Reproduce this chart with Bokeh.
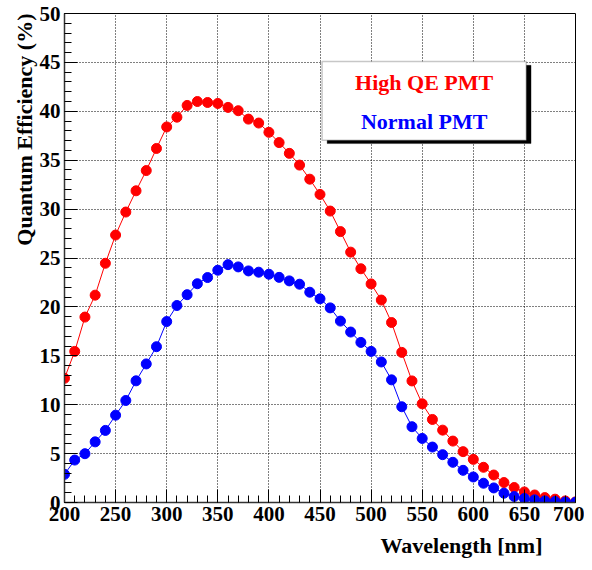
from bokeh.plotting import figure
from bokeh.models import (Range1d, SingleIntervalTicker, Title, BoxAnnotation, Label)
from bokeh.embed import file_html
from bokeh.resources import INLINE

wavelength = list(range(200, 701, 10))
high_qe = [12.7, 15.45, 18.96, 21.2, 24.46, 27.35, 29.7, 31.87, 33.94, 36.2,
           38.4, 39.4, 40.6, 41.0, 40.9, 40.8, 40.4, 40.06, 39.2, 38.8,
           37.85, 36.8, 35.7, 34.5, 33.06, 31.5, 29.8, 27.7, 25.6, 23.9,
           22.35, 20.7, 18.4, 15.35, 12.43, 10.09, 8.49, 7.4, 6.28, 5.2,
           4.41, 3.6, 2.81, 2.04, 1.53, 1.08, 0.77, 0.5, 0.34, 0.16, 0.06]
normal = [2.88, 4.34, 4.99, 6.2, 7.37, 8.93, 10.43, 12.44, 14.17, 15.93,
          18.5, 20.14, 21.25, 22.37, 23.0, 23.75, 24.32, 24.09, 23.68, 23.55,
          23.34, 23.02, 22.66, 22.32, 21.5, 20.83, 19.9, 18.55, 17.43, 16.37,
          15.45, 14.37, 12.54, 9.79, 7.75, 6.55, 5.67, 4.89, 4.11, 3.29,
          2.61, 1.97, 1.49, 0.95, 0.61, 0.41, 0.27, 0.16, 0.1, 0.05, 0.03]
series_names = ["High QE PMT", "Normal PMT"]
series_colors = ["#ff0000", "#0000ff"]

FONT = "Liberation Serif"

p = figure(width=584, height=570, output_backend="svg", toolbar_location=None,
           x_range=Range1d(200, 700), y_range=Range1d(0, 50),
           min_border_left=64, min_border_right=9, min_border_top=13,
           min_border_bottom=68)
p.background_fill_color = "white"
p.border_fill_color = "white"
p.outline_line_color = "black"
p.outline_line_width = 1

for ax in (p.xaxis[0], p.yaxis[0]):
    ax.major_tick_in = 13
    ax.major_tick_out = 0
    ax.minor_tick_in = 7
    ax.minor_tick_out = 0
    ax.axis_line_color = "#333333"
    ax.axis_line_width = 1.5
    ax.major_tick_line_color = "black"
    ax.minor_tick_line_color = "black"
    ax.major_label_text_font = FONT
    ax.major_label_text_font_style = "bold"
    ax.major_label_text_font_size = "21px"
    ax.major_label_text_color = "black"

p.xaxis[0].ticker = SingleIntervalTicker(interval=50, num_minor_ticks=5)
p.yaxis[0].ticker = SingleIntervalTicker(interval=5, num_minor_ticks=5)
p.xaxis[0].major_label_standoff = 4
p.yaxis[0].major_label_standoff = 4

for g in (p.xgrid[0], p.ygrid[0]):
    g.grid_line_color = "black"
    g.grid_line_dash = "1 2"
    g.grid_line_width = 1

for vals, col in zip([high_qe, normal], series_colors):
    p.line(wavelength, vals, line_color=col, line_width=1)
    p.scatter(wavelength, vals, size=10, fill_color=col, line_color=col)

# Legend box with shadow
p.add_layout(BoxAnnotation(left=457, right=656.5, top=44.7, bottom=36.7,
                           fill_color="black", fill_alpha=1, line_color="black"))
p.add_layout(BoxAnnotation(left=452, right=651.8, top=45.09, bottom=37.03,
                           fill_color="white", fill_alpha=1, line_color="#444444",
                           line_width=1.5))
for name, col, yy in zip(series_names, series_colors, [42.98, 38.97]):
    p.add_layout(Label(x=551.9, y=yy, text=name, text_color=col,
                       text_font=FONT, text_font_style="bold",
                       text_font_size="22px", text_align="center",
                       text_baseline="middle"))

p.add_layout(Title(text="Quantum Efficiency (%)", align="right",
                   text_font=FONT, text_font_style="bold", text_color="black",
                   text_font_size="22px", standoff=0), "left")
p.add_layout(Title(text="Wavelength [nm]", align="right", offset=33,
                   vertical_align="top",
                   text_font=FONT, text_font_style="bold", text_color="black",
                   text_font_size="22px", standoff=19), "below")

open("out.html", "w").write(file_html(p, INLINE))
